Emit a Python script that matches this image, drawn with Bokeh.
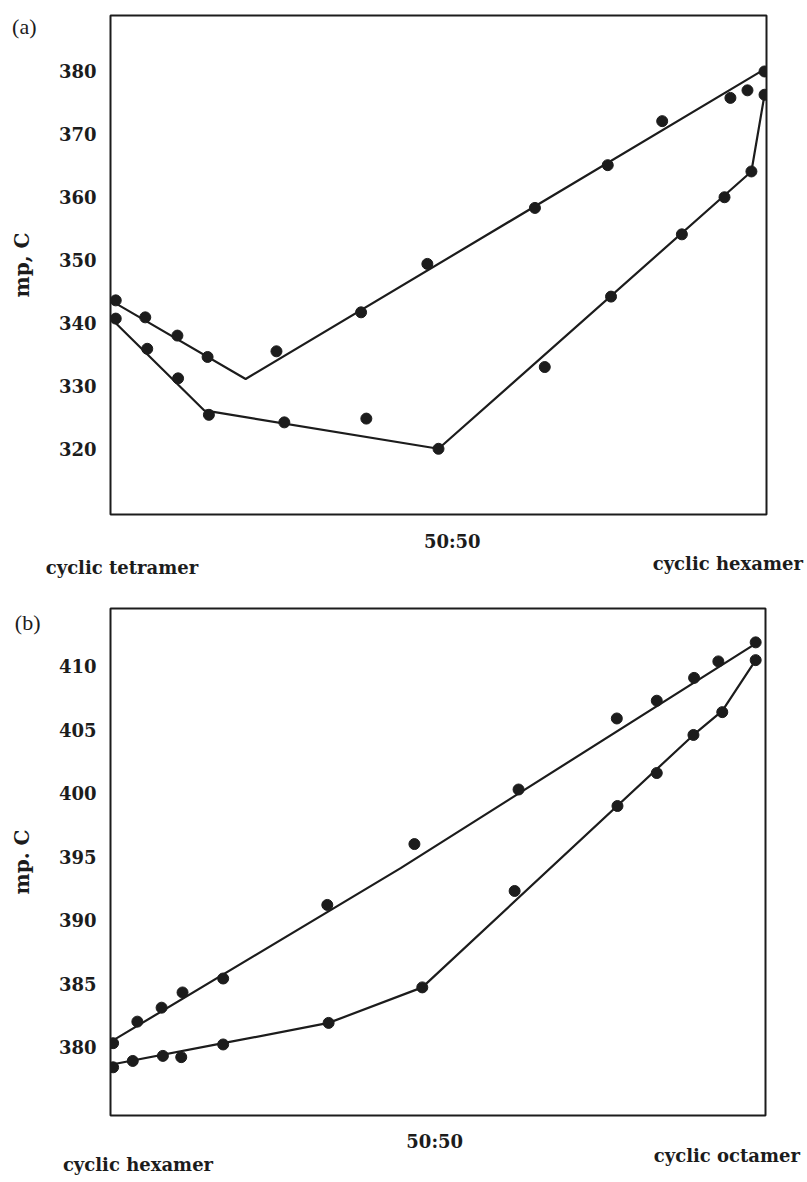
from bokeh.plotting import figure
from bokeh.layouts import column
from bokeh.models import FixedTicker, LinearAxis
from bokeh.embed import file_html
from bokeh.resources import INLINE

# ---------------- data: panel (a) tetramer / hexamer ----------------
a_upper_x = [0.8, 5.3, 10.2, 14.8, 25.3, 38.2, 48.3, 64.7, 75.8, 84.1, 94.5, 97.1, 99.7]
a_upper_y = [343.6, 340.9, 338.0, 334.6, 335.5, 341.7, 349.4, 358.3, 365.1, 372.1, 375.8, 377.0, 380.0]
a_lower_x = [0.8, 5.6, 10.3, 15.0, 26.5, 39.0, 50.0, 66.2, 76.3, 87.1, 93.6, 97.7, 99.7]
a_lower_y = [340.7, 335.9, 331.2, 325.4, 324.2, 324.8, 320.0, 333.0, 344.2, 354.1, 360.0, 364.1, 376.3]
a_upper_fit_x = [0, 20.6, 99.6]
a_upper_fit_y = [343.6, 331.1, 380.3]
a_lower_fit_x = [0, 14.3, 50.0, 97.7, 99.7]
a_lower_fit_y = [340.8, 326.1, 320.0, 364.1, 376.3]
a_ticks = [320, 330, 340, 350, 360, 370, 380]

# ---------------- data: panel (b) hexamer / octamer ----------------
b_upper_x = [0.4, 4.1, 7.8, 11.0, 17.2, 33.1, 46.4, 62.3, 77.3, 83.4, 89.1, 92.8, 98.5]
b_upper_y = [380.3, 382.0, 383.1, 384.3, 385.4, 391.2, 396.0, 400.3, 405.9, 407.3, 409.1, 410.4, 411.9]
b_lower_x = [0.4, 3.4, 8.0, 10.8, 17.2, 33.3, 47.6, 61.7, 77.4, 83.4, 89.0, 93.4, 98.5]
b_lower_y = [378.4, 378.9, 379.3, 379.2, 380.2, 381.9, 384.7, 392.3, 399.0, 401.6, 404.6, 406.4, 410.5]
b_upper_fit_x = [0, 44.3, 98.5]
b_upper_fit_y = [380.4, 394.1, 411.8]
b_lower_fit_x = [0, 17.2, 33.3, 47.6, 89.0, 93.4, 98.5]
b_lower_fit_y = [378.6, 380.3, 381.9, 384.7, 404.6, 406.5, 410.5]
b_ticks = [380, 385, 390, 395, 400, 405, 410]

# composition labels along the bottom: (x position, text, standoff)
a_bottom = [(52.1, "50:50", 16), (94.1, "cyclic hexamer", -2), (1.75, "cyclic tetramer", -20)]
b_bottom = [(49.5, "50:50", 15), (94.1, "cyclic octamer", -10), (4.2, "cyclic hexamer", -15)]
a_tag = (387.2, "(a)", -30)
b_tag = (413.5, "(b)", -34)

INK = "#1c1c1c"
SERIF = "DejaVu Serif"


def text_axis(axis):
    axis.axis_line_color = None
    axis.major_tick_line_color = None
    axis.minor_tick_line_color = None
    axis.major_tick_out = 0
    axis.major_tick_in = 0
    axis.major_label_text_color = INK


def make_panel(frame_w, frame_h, y_range, border_top, border_bottom, border_right, ylabel, ticks,
               up_x, up_y, lo_x, lo_y, upf_x, upf_y, lof_x, lof_y, bottom, tag):
    p = figure(frame_width=frame_w, frame_height=frame_h, x_range=(0, 100), y_range=y_range,
               output_backend="svg", toolbar_location=None, x_axis_location=None,
               min_border_left=110, min_border_right=border_right,
               min_border_top=border_top, min_border_bottom=border_bottom)
    p.grid.visible = False
    p.outline_line_color = INK
    p.outline_line_width = 2
    p.background_fill_color = "white"
    p.border_fill_color = "white"

    ax = p.yaxis[0]
    ax.ticker = FixedTicker(ticks=ticks)
    text_axis(ax)
    ax.major_label_standoff = 14
    ax.major_label_text_font = SERIF
    ax.major_label_text_font_style = "bold"
    ax.major_label_text_font_size = "18px"
    ax.axis_label = ylabel
    ax.axis_label_text_font = SERIF
    ax.axis_label_text_font_style = "bold"
    ax.axis_label_text_font_size = "20px"
    ax.axis_label_text_color = INK
    ax.axis_label_standoff = 22

    # panel tag "(a)" / "(b)" as a tick label of an outer left axis
    ty, ttxt, tstand = tag
    tag_ax = LinearAxis(ticker=FixedTicker(ticks=[ty]), major_label_overrides={ty: ttxt})
    text_axis(tag_ax)
    tag_ax.major_label_standoff = tstand
    tag_ax.major_label_text_font = "Liberation Serif"
    tag_ax.major_label_text_font_style = "normal"
    tag_ax.major_label_text_font_size = "22px"
    p.add_layout(tag_ax, "left")

    # bottom composition labels, one axis each
    for (bx, btxt, bstand) in bottom:
        bax = LinearAxis(ticker=FixedTicker(ticks=[bx]), major_label_overrides={bx: btxt})
        text_axis(bax)
        bax.major_label_standoff = bstand
        bax.major_label_text_font = SERIF
        bax.major_label_text_font_style = "bold"
        bax.major_label_text_font_size = "18px"
        p.add_layout(bax, "below")

    p.line(upf_x, upf_y, line_color=INK, line_width=2.2)
    p.line(lof_x, lof_y, line_color=INK, line_width=2.2)
    p.scatter(up_x, up_y, size=11, color=INK)
    p.scatter(lo_x, lo_y, size=11, color=INK)
    return p


pa = make_panel(656, 499, (309.55, 388.9), 15, 79, 41, "mp, C", a_ticks,
                a_upper_x, a_upper_y, a_lower_x, a_lower_y,
                a_upper_fit_x, a_upper_fit_y, a_lower_fit_x, a_lower_fit_y, a_bottom, a_tag)
pb = make_panel(655, 507, (374.6, 414.57), 15, 67, 42, "mp. C", b_ticks,
                b_upper_x, b_upper_y, b_lower_x, b_lower_y,
                b_upper_fit_x, b_upper_fit_y, b_lower_fit_x, b_lower_fit_y, b_bottom, b_tag)

layout = column(pa, pb, spacing=0)
open("out.html", "w").write(file_html(layout, INLINE))
